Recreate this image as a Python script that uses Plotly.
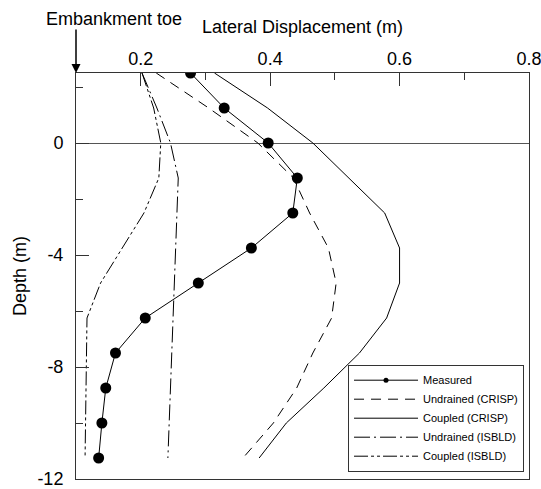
import plotly.graph_objects as go

# ---------------- data ----------------
depth_measured = [2.5, 1.25, 0, -1.25, -2.5, -3.75, -5, -6.25, -7.5, -8.75, -10, -11.25]
disp_measured = [0.277, 0.329, 0.397, 0.442, 0.435, 0.371, 0.289, 0.207, 0.161, 0.146, 0.140, 0.135]

depth_undrained_crisp = [2.5, 1.25, 0, -1.25, -2.5, -3.75, -5, -6.25, -7.5, -8.75, -10, -11.25]
disp_undrained_crisp = [0.224, 0.305, 0.381, 0.436, 0.461, 0.490, 0.502, 0.495, 0.466, 0.441, 0.405, 0.358]

depth_coupled_crisp = [2.5, 1.25, 0, -1.25, -2.5, -3.75, -5, -6.25, -7.5, -8.75, -10, -11.25]
disp_coupled_crisp = [0.314, 0.396, 0.466, 0.522, 0.577, 0.600, 0.600, 0.580, 0.538, 0.483, 0.425, 0.383]

depth_undrained_isbld = [2.5, 1.25, 0, -1.25, -2.5, -5, -7.5, -10, -11.25]
disp_undrained_isbld = [0.202, 0.225, 0.246, 0.258, 0.256, 0.252, 0.248, 0.244, 0.242]

depth_coupled_isbld = [2.5, 1.25, 0, -1.25, -2.5, -3.75, -5, -6.25, -7.5, -10, -11.25]
disp_coupled_isbld = [0.202, 0.220, 0.231, 0.228, 0.205, 0.172, 0.138, 0.117, 0.116, 0.115, 0.114]

y_tick_vals = [0, -4, -8, -12]
y_tick_text = ["0", "-4", "-8", "-12"]
x_tick_vals = [0.2, 0.4, 0.6, 0.8]
x_tick_text = ["0.2", "0.4", "0.6", "0.8"]

FONT = "Liberation Sans, Arial, sans-serif"

fig = go.Figure()

fig.add_trace(go.Scatter(
    x=disp_undrained_crisp, y=depth_undrained_crisp, mode="lines",
    name="Undrained (CRISP)", legendrank=2,
    line=dict(color="black", width=1, dash="10px,7px")))
fig.add_trace(go.Scatter(
    x=disp_coupled_crisp, y=depth_coupled_crisp, mode="lines",
    name="Coupled (CRISP)", legendrank=3,
    line=dict(color="black", width=1)))
fig.add_trace(go.Scatter(
    x=disp_undrained_isbld, y=depth_undrained_isbld, mode="lines",
    name="Undrained (ISBLD)", legendrank=4,
    line=dict(color="black", width=1, dash="16px,4px,2px,4px")))
fig.add_trace(go.Scatter(
    x=disp_coupled_isbld, y=depth_coupled_isbld, mode="lines",
    name="Coupled (ISBLD)", legendrank=5,
    line=dict(color="black", width=1, dash="14px,3px,3px,3px,3px,3px")))
fig.add_trace(go.Scatter(
    x=disp_measured, y=depth_measured, mode="lines+markers",
    name="Measured", legendgroup="meas", showlegend=False,
    line=dict(color="black", width=1),
    marker=dict(color="black", size=11, symbol="circle")))
# legend entry for measured (small dot like the original key)
fig.add_trace(go.Scatter(
    x=[None], y=[None], mode="lines+markers",
    name="Measured", legendgroup="meas", legendrank=1,
    line=dict(color="black", width=1),
    marker=dict(color="black", size=5)))

fig.update_layout(
    width=541, height=489,
    margin=dict(l=76, r=12, t=73, b=10),
    paper_bgcolor="white", plot_bgcolor="white",
    font=dict(family=FONT, size=18, color="black"),
    showlegend=True,
    legend=dict(
        x=0.989, xanchor="right", y=0.018, yanchor="bottom",
        bgcolor="white", bordercolor="#333", borderwidth=1,
        font=dict(family=FONT, size=11, color="black"),
        traceorder="normal", itemwidth=64,
    ),
    xaxis=dict(
        range=[0.1, 0.8], side="top", automargin=False,
        tickmode="array", tickvals=x_tick_vals, ticktext=x_tick_text,
        ticks="inside", ticklen=13, tickcolor="#333", tickwidth=1,
        minor=dict(tickmode="linear", tick0=0, dtick=0.1, ticks="inside",
                   ticklen=7, tickcolor="#333", tickwidth=1),
        showline=True, linecolor="#333", linewidth=1, mirror=True,
        showgrid=False, zeroline=False,
        tickfont=dict(size=18), ticklabelstandoff=0,
        ticklabeloverflow="allow",
        title=dict(text="Lateral Displacement (m)", standoff=10, font=dict(size=18)),
    ),
    yaxis=dict(
        range=[-12, 2.5], automargin=False,
        tickmode="array", tickvals=y_tick_vals, ticktext=y_tick_text,
        ticks="inside", ticklen=13, tickcolor="#333", tickwidth=1,
        minor=dict(tickmode="linear", tick0=0, dtick=2, ticks="inside",
                   ticklen=7, tickcolor="#333", tickwidth=1),
        showline=True, linecolor="#333", linewidth=1, mirror=True,
        showgrid=False,
        zeroline=True, zerolinecolor="#555", zerolinewidth=1,
        tickfont=dict(size=18), ticklabelstandoff=8,
        ticklabeloverflow="allow",
        title=dict(text="Depth (m)", standoff=6, font=dict(size=18)),
    ),
)

# Embankment toe arrow and label
fig.add_annotation(x=0.1, y=2.5, xref="x", yref="y", text="",
                   showarrow=True, ax=0, ay=-45, arrowhead=2,
                   arrowsize=1.2, arrowwidth=1.5, arrowcolor="black")
fig.add_annotation(x=0.0833, y=1.132, xref="paper", yref="paper",
                   text="Embankment toe", showarrow=False,
                   xanchor="center", yanchor="middle",
                   font=dict(family=FONT, size=18, color="black"))

fig.write_html("out.html")
